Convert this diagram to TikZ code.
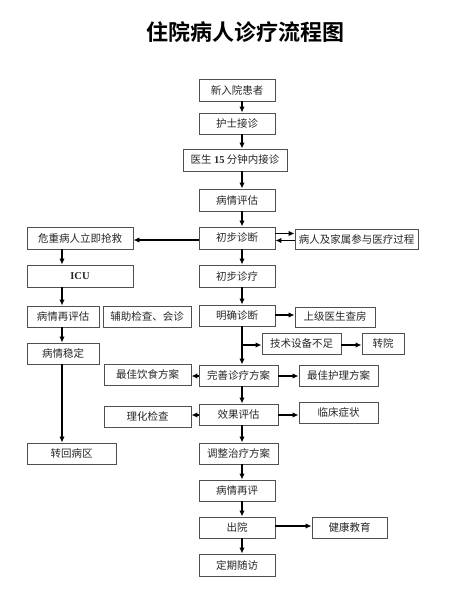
\documentclass[tikz,border=0pt]{standalone}
\usepackage{fontspec}
\setmainfont{Liberation Serif}
\newfontfamily\cjk{Noto Sans CJK SC}
\newfontfamily\cjkb{Noto Sans CJK SC Bold}
\usetikzlibrary{arrows.meta}
\definecolor{boxline}{HTML}{505050}
\tikzset{
  box/.style={draw=boxline, line width=0.9pt, inner sep=0pt, font=\cjk\fontsize{10.5}{12}\selectfont, text=black!85},
  arr/.style={draw=black, line width=1.4pt, -{Latex[length=6pt,width=5.5pt]}},
  ln/.style={draw=black, line width=1.4pt}
}
\newcommand{\bx}[6]{\node[box, minimum width=#4pt, minimum height=#5pt] (#1) at (#2,#3) {#6};}
\begin{document}
\begin{tikzpicture}[x=1pt,y=-1pt]
\useasboundingbox (0,0) rectangle (448,600);
\node[font=\cjkb\fontsize{22}{26}\selectfont] (title) at (245,32) {住院病人诊疗流程图};
\coordinate (m) at (242,0);
\coordinate (l) at (62,0);
\bx{n1}{237}{90}{76}{22}{新入院患者}
\bx{n2}{237}{123.5}{76}{21}{护士接诊}
\bx{n3}{235}{160}{104}{22}{医生 {\rmfamily\bfseries 15} 分钟内接诊}
\bx{n4}{237}{200}{76}{22}{病情评估}
\bx{n5}{237}{238}{76}{22}{初步诊断}
\bx{n6}{356.5}{239}{123}{20}{病人及家属参与医疗过程}
\bx{n7}{80}{238}{106}{22}{危重病人立即抢救}
\bx{n8}{80}{276}{106}{22}{\rmfamily\bfseries ICU}
\bx{n9}{237}{276}{76}{22}{初步诊疗}
\bx{n10}{63}{316.5}{72}{21}{病情再评估}
\bx{n11}{147}{316.5}{88}{21}{辅助检查、会诊}
\bx{n12}{237}{315.5}{76}{21}{明确诊断}
\bx{n13}{335}{317}{80}{20}{上级医生查房}
\bx{n14}{63}{353.5}{72}{21}{病情稳定}
\bx{n15}{301.5}{343.5}{79}{21}{技术设备不足}
\bx{n16}{383}{343.5}{42}{21}{转院}
\bx{n17}{147.5}{374.5}{87}{21}{最佳饮食方案}
\bx{n18}{238.5}{375.5}{79}{21}{完善诊疗方案}
\bx{n19}{338.5}{375.5}{79}{21}{最佳护理方案}
\bx{n20}{147.5}{416.5}{87}{21}{理化检查}
\bx{n21}{238.5}{414.5}{79}{21}{效果评估}
\bx{n22}{338.5}{412.5}{79}{21}{临床症状}
\bx{n23}{71.5}{453.5}{89}{21}{转回病区}
\bx{n24}{238.5}{453.5}{79}{21}{调整治疗方案}
\bx{n25}{237}{490.5}{76}{21}{病情再评}
\bx{n26}{237}{527.5}{76}{21}{出院}
\bx{n27}{349.5}{527.5}{75}{21}{健康教育}
\bx{n28}{237}{565}{76}{22}{定期随访}
% main column
\foreach \a/\b in {n1/n2,n2/n3,n3/n4,n4/n5,n5/n9,n9/n12,n18/n21,n21/n24,n24/n25,n25/n26,n26/n28}
  \draw[arr] (\a.south -| m) -- (\b.north -| m);
\draw[arr] (n12.south -| m) -- (n18.north -| m);
\coordinate (br) at (242,345);
\draw[arr] (br) -- (n15.west |- br);
\draw[arr] (n15.east |- br) -- (n16.west |- br);
% left column
\foreach \a/\b in {n7/n8,n8/n10,n10/n14,n14/n23}
  \draw[arr] (\a.south -| l) -- (\b.north -| l);
% horizontals
\coordinate (h5) at (0,240);
\draw[arr] (n5.west |- h5) -- (n7.east |- h5);
\coordinate (h6a) at (0,233.5);
\coordinate (h6b) at (0,240.5);
\draw[arr] (n5.east |- h6a) -- (n6.west |- h6a);
\draw[arr] (n6.west |- h6b) -- (n5.east |- h6b);
\coordinate (h12) at (0,315);
\draw[arr] (n12.east |- h12) -- (n13.west |- h12);
\coordinate (h18) at (0,376);
\draw[arr] (n18.west |- h18) -- (n17.east |- h18);
\draw[arr] (n18.east |- h18) -- (n19.west |- h18);
\coordinate (h21) at (0,415);
\draw[arr] (n21.west |- h21) -- (n20.east |- h21);
\draw[arr] (n21.east |- h21) -- (n22.west |- h21);
\coordinate (h26) at (0,526);
\draw[arr] (n26.east |- h26) -- (n27.west |- h26);
\end{tikzpicture}
\end{document}
